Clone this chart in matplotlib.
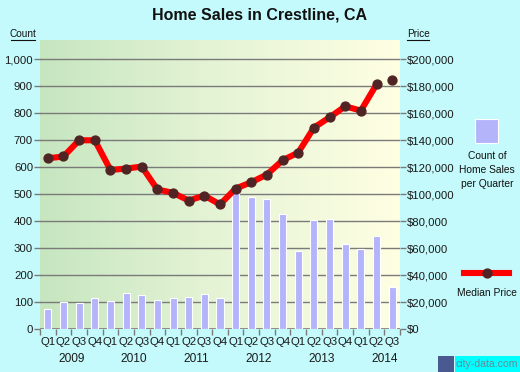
import numpy as np
import matplotlib
matplotlib.use("Agg")
import matplotlib.pyplot as plt
from matplotlib.colors import LinearSegmentedColormap
from matplotlib.patches import Rectangle
from matplotlib.lines import Line2D
from matplotlib.ticker import FuncFormatter, MultipleLocator

plt.rcParams['font.family'] = ['Liberation Sans', 'DejaVu Sans']

quarters = ["Q1", "Q2", "Q3", "Q4"] * 5 + ["Q1", "Q2", "Q3"]
years = ["2009", "2010", "2011", "2012", "2013", "2014"]
sales_count = [73, 99, 95, 114, 103, 132, 125, 106, 114, 117, 131, 114,
               517, 491, 483, 425, 290, 405, 409, 317, 298, 346, 157]
median_price = [126600, 128000, 140000, 140000, 118000, 119000, 120500, 103500,
                101000, 95300, 99000, 92400, 104200, 108900, 114600, 125200,
                130900, 149400, 157000, 165200, 162000, 181500, 185000]

W, H = 520, 372
BG = "#C4FAFB"
fig = plt.figure(figsize=(W / 100, H / 100), dpi=100, facecolor=BG)

def fx(x):
    return x / W

def fy(y):
    return 1 - y / H

L, R, T, B = 40, 400, 40, 329
ax = fig.add_axes([fx(L), fy(B), fx(R) - fx(L), fy(T) - fy(B)])
ax.set_facecolor("none")
n = len(sales_count)
xs = np.arange(n)
ymax = 1072
ax.set_xlim(-0.5, n - 0.5)
ax.set_ylim(0, ymax)

# gradient background
cmap = LinearSegmentedColormap.from_list("g", ["#C6E6C0", "#E6F4D6", "#FFFFE2"])
grad = np.linspace(0, 1, 256).reshape(1, -1)
ax.imshow(grad, aspect="auto", cmap=cmap, extent=(-0.5, n - 0.5, 0, ymax), zorder=0)

for v in range(100, 1001, 100):
    ax.axhline(v, color="#7A7A7A", lw=1.0, zorder=1)
ax.axhline(0, color="#7A7A7A", lw=1.2, zorder=1)

ax.bar(xs, sales_count, width=0.45, color="#B4B4FA", edgecolor="white", lw=0.8, zorder=2)

# price on count scale (price axis: $200,000 == 1000 count)
pc = np.array(median_price) / 200.0
ax.plot(xs[:-1], pc[:-1], color="#FF0000", lw=4.4, solid_capstyle="round",
        solid_joinstyle="round", zorder=3)
ax.plot(xs, pc, ls="none", marker="o", ms=6.4, color="#502424", zorder=4)

for s in ax.spines.values():
    s.set_visible(False)

ax.yaxis.set_major_locator(MultipleLocator(100))
ax.yaxis.set_major_formatter(FuncFormatter(lambda v, p: f"{int(v):,}"))
ax.set_ylim(0, ymax)
ax.tick_params(axis="y", length=4, width=1, color="#7A7A7A", labelsize=8.2,
               labelcolor="#1A1A1A", pad=1)
ax.set_xticks(np.arange(-0.5, n, 1.0))
ax.set_xticklabels([])
ax.tick_params(axis="x", length=4, width=1, color="#7A7A7A")
for i, q in enumerate(quarters):
    ax.text(i, -0.045, q, transform=ax.get_xaxis_transform(), ha="center", va="center",
            fontsize=8.2, color="#1A1A1A")
for k, yr in enumerate(years):
    ax.text(4 * k + 1.5, -0.105, yr, transform=ax.get_xaxis_transform(), ha="center",
            va="center", fontsize=8.6, color="#1A1A1A")

ax2 = ax.twinx()
ax2.set_ylim(0, ymax * 200)
ax2.yaxis.set_major_locator(MultipleLocator(20000))
ax2.yaxis.set_major_formatter(FuncFormatter(lambda v, p: f"${int(v):,}"))
ax2.set_ylim(0, ymax * 200)
for s in ax2.spines.values():
    s.set_visible(False)
ax2.tick_params(axis="y", length=4, width=1, color="#7A7A7A", labelsize=8.2,
                labelcolor="#1A1A1A", pad=1)

fig.text(fx(259), fy(15), "Home Sales in Crestline, CA", ha="center", va="center",
         fontsize=11.5, fontweight="bold", color="#111111")
fig.text(fx(23), fy(34), "Count", ha="center", va="center", fontsize=7.2,
         color="#111111")
fig.add_artist(Line2D([fx(11), fx(35)], [fy(39.5)] * 2, color="#111111", lw=0.8))
fig.text(fx(418), fy(34), "Price", ha="center", va="center", fontsize=7.2,
         color="#111111")
fig.add_artist(Line2D([fx(407), fx(429)], [fy(39.5)] * 2, color="#111111", lw=0.8))

# legend
fig.add_artist(Rectangle((fx(475), fy(143)), fx(498) - fx(475), fy(119) - fy(143),
                         facecolor="#B4B4FA", edgecolor="white", lw=0.8,
                         transform=fig.transFigure))
fig.text(fx(487), fy(170), "Count of\nHome Sales\nper Quarter", ha="center",
         va="center", fontsize=7.4, linespacing=1.45, color="#111111")
fig.add_artist(Line2D([fx(464), fx(509)], [fy(273)] * 2, color="#FF0000", lw=4.4))
fig.add_artist(Line2D([fx(486.5)], [fy(273)], marker="o", ms=6.4, color="#502424",
                      ls="none"))
fig.text(fx(487), fy(293), "Median Price", ha="center", va="center", fontsize=7.4,
         color="#111111")

# watermark
fig.add_artist(Rectangle((fx(438), fy(372)), fx(16), fy(356) - fy(372),
                         facecolor="#4A5A90", edgecolor="none", transform=fig.transFigure))
fig.add_artist(Rectangle((fx(455), fy(372)), fx(65), fy(356) - fy(372),
                         facecolor="#00FFFF", edgecolor="none", transform=fig.transFigure))
fig.text(fx(487), fy(364), "city-data.com", ha="center", va="center", fontsize=7.6,
         color="#6A8898")

fig.savefig("out.png", dpi=100, facecolor=BG)
